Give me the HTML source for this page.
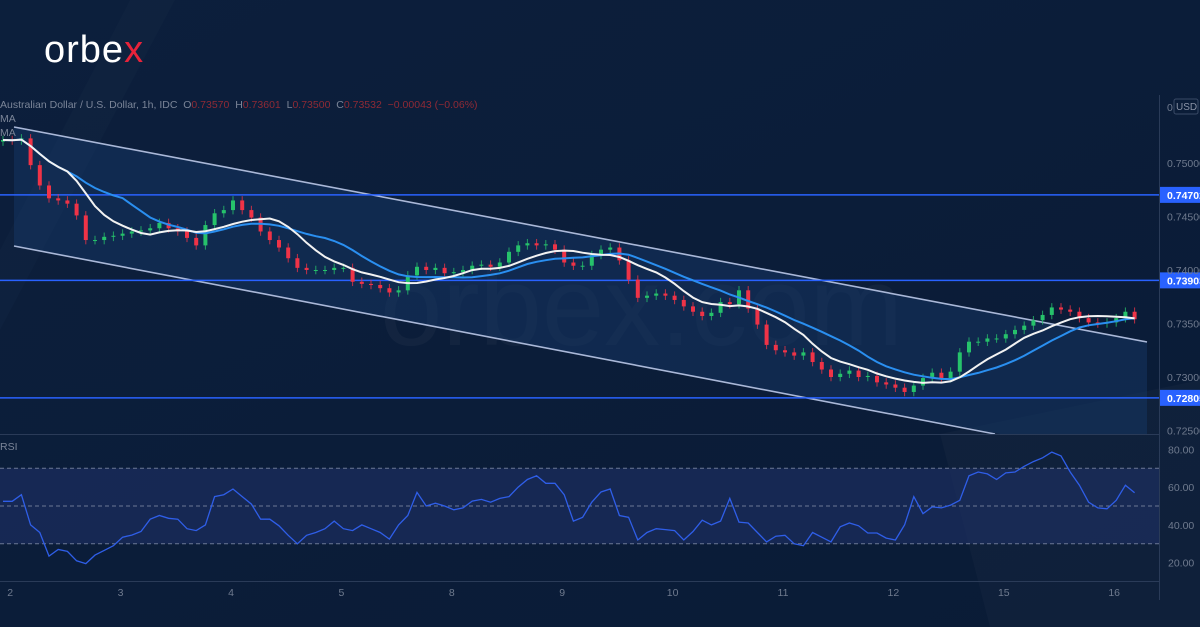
<!DOCTYPE html>
<html><head><meta charset="utf-8"><style>
html,body{margin:0;padding:0;background:#0b1d39;overflow:hidden}
svg{display:block}
text{font-family:"Liberation Sans",sans-serif}
</style></head><body>
<svg id="chart" width="1200" height="627" xmlns="http://www.w3.org/2000/svg">
<defs>
<linearGradient id="bg" x1="0" y1="0" x2="1" y2="1"><stop offset="0" stop-color="#0c1f3c"/><stop offset="1" stop-color="#0a1b36"/></linearGradient>
</defs>
<rect width="1200" height="627" fill="url(#bg)"/>
<polygon points="0,250 130,0 175,0 0,330" fill="#ffffff" opacity="0.015"/>
<polygon points="940,434 1200,380 1200,627 990,627" fill="#ffffff" opacity="0.025"/>
<g id="logo">
<text x="44" y="62" font-size="38" fill="#ffffff" letter-spacing="1">orbe<tspan fill="#e8233a">x</tspan></text>
</g>
<text x="380" y="345" font-size="112" fill="#ffffff" opacity="0.03">orbex.com</text>
<g id="channel"></g>
<g id="hlines"></g>
<g id="candles"></g>
<g id="mas"></g>
<g id="rsi"></g>
<g id="axes"></g>
<g id="header">
<text x="0" y="108" font-size="10.5" fill="#7b8598">Australian Dollar / U.S. Dollar, 1h, IDC&#160;&#160;O<tspan fill="#8f2a35">0.73570</tspan>&#160;&#160;H<tspan fill="#8f2a35">0.73601</tspan>&#160;&#160;L<tspan fill="#8f2a35">0.73500</tspan>&#160;&#160;C<tspan fill="#8f2a35">0.73532</tspan>&#160;&#160;<tspan fill="#8f2a35">−0.00043 (−0.06%)</tspan></text>
<text x="0" y="122" font-size="10.5" fill="#7b8598">MA</text>
<text x="0" y="136" font-size="10.5" fill="#7b8598">MA</text>
<text x="0" y="450" font-size="10.5" fill="#7b8598">RSI</text>
</g>
</svg>
<script>
const closes=[0.75215,0.7521,0.7523,0.7498,0.7479,0.7467,0.7465,0.7462,0.7451,0.7428,
0.7428,0.7431,0.7432,0.7434,0.7436,0.7437,0.7439,0.7444,0.7439,0.7436,
0.7430,0.7423,0.7442,0.7453,0.7456,0.7465,0.7456,0.7449,0.7436,0.7428,
0.7421,0.7411,0.7402,0.7400,0.7400,0.7400,0.7402,0.7402,0.7389,0.7387,
0.7386,0.7383,0.7379,0.7381,0.7395,0.7403,0.7400,0.7402,0.7397,0.7398,
0.7400,0.7404,0.7405,0.7403,0.7407,0.7417,0.7423,0.7425,0.7423,0.7424,
0.7419,0.7407,0.7404,0.7404,0.7414,0.7419,0.7421,0.7409,0.7391,0.7374,
0.7376,0.7378,0.7376,0.7372,0.7366,0.7361,0.7357,0.7360,0.7370,0.7368,
0.7381,0.7364,0.7349,0.7330,0.7325,0.7323,0.7320,0.7323,0.7314,0.7307,
0.7300,0.7303,0.7306,0.7300,0.7301,0.7295,0.7293,0.7290,0.7286,0.7292,
0.7299,0.7304,0.7299,0.7305,0.7323,0.7333,0.7333,0.7336,0.7336,0.7340,
0.7344,0.7348,0.7353,0.7358,0.7365,0.7363,0.7361,0.7355,0.7351,0.7350,
0.7351,0.7355,0.7361,0.7354];
const rsiValues=[52.5,52.5,56,40,36,23.5,27,26,21,19.5,
24,26.5,29,33.5,34.6,36.5,43,45,43.5,43,
38,37,40,55,56,59,55,51,43,43,
39.5,34.5,30,34.5,36,38,42,38,37,40,
38,36,32.5,40,45,57.2,50,51.5,50,48,
49,52.6,53.5,52,54,55,60,64,66,62,
62,56,42,44,52,57.4,59,45,44,32,
36,38,37.5,37,32,36.5,42.5,40,42,54,
41.5,41,36,31,34,34.5,30,29,36,33.5,
31,39,41,39.5,35.7,35.7,33,32,40,55,
46,49.5,49,50.5,53,66,68,67,64,67.5,
68,71,73.5,75.5,78.5,76.5,68,61,52,49,
48.5,53,61,57];
const priceTicks=[0.75,0.745,0.74,0.735,0.73,0.725];
const rsiTicks=[80,60,40,20];
const dayLabels=["2","3","4","5","8","9","10","11","12","15","16"];
const dayBarIndex=[1,13,25,37,49,61,73,85,97,109,121];
const levels=[0.74702,0.73903,0.72805];
const maFastPeriod=8, maSlowPeriod=14;

const NS="http://www.w3.org/2000/svg";
function el(tag,attrs,parent){const e=document.createElementNS(NS,tag);for(const k in attrs)e.setAttribute(k,attrs[k]);parent.appendChild(e);return e;}
const xOf=i=>3+i*9.2;
const yP=p=>163+(0.75-p)*10700;
const yR=v=>506-(v-50)*1.89;

const ch=document.getElementById('channel');
let f=el('polygon',{points:"14,127 1147,342 1147,434 1000,434 14,246",fill:"#17396a",opacity:"0.45"},ch);


let u=el('line',{x1:14,y1:127,x2:1147,y2:342,stroke:"#aab8d8","stroke-width":1.6},ch);


let lw=el('line',{x1:14,y1:246,x2:995,y2:434,stroke:"#aab8d8","stroke-width":1.6},ch);



const hl=document.getElementById('hlines');
levels.forEach(v=>{
 const y=yP(v);
 const l=el('line',{x1:0,y1:y,x2:1160,y2:y,stroke:"#2962ff","stroke-width":1.5},hl);
 
 
 const r=el('rect',{x:1160,y:y-8,width:40,height:16,fill:"#2962ff"},hl);
 
 
 const t=el('text',{x:1167,y:y+4,"font-size":"10.5","font-weight":"bold",fill:"#ffffff"},hl);
 t.textContent=v.toFixed(5);
 
 
});

const cg=document.getElementById('candles');
closes.forEach((c,i)=>{
 const o=i===0?0.7520:closes[i-1];
 const up=c>=o;
 const col=up?"#26c26b":"#ef3347";
 const x=xOf(i);
 const hi=Math.max(o,c)+0.0004, lo=Math.min(o,c)-0.0004;
 const w=el('line',{x1:x,y1:yP(hi),x2:x,y2:yP(lo),stroke:col,"stroke-width":1,opacity:"0.8"},cg);
 
 
 const top=yP(Math.max(o,c)), h=Math.max(1,Math.abs(yP(o)-yP(c)));
 const b=el('rect',{x:x-2,y:top,width:4,height:h,fill:col},cg);
 
 
});

function ma(n){return closes.map((_,i)=>{const s=Math.max(0,i-n+1);let t=0;for(let k=s;k<=i;k++)t+=closes[k];return t/(i-s+1);});}
const mg=document.getElementById('mas');
[[maSlowPeriod,"#2a8ff0","ma-slow-line"],[maFastPeriod,"#f2f2f2","ma-fast-line"]].forEach(([n,col,name])=>{
 const d=ma(n).map((v,i)=>(i?"L":"M")+xOf(i).toFixed(1)+","+yP(v).toFixed(1)).join("");
 const p=el('path',{d:d,fill:"none",stroke:col,"stroke-width":2},mg);
 
 
});

const rg=document.getElementById('rsi');
const sep=el('line',{x1:0,y1:434.5,x2:1160,y2:434.5,stroke:"#2a3b58","stroke-width":1},rg);


const band=el('rect',{x:0,y:yR(70),width:1159,height:yR(30)-yR(70),fill:"#1e3166",opacity:"0.6"},rg);


[70,50,30].forEach(v=>{
 const l=el('line',{x1:0,y1:yR(v),x2:1159,y2:yR(v),stroke:"#6c7894","stroke-width":1,"stroke-dasharray":"4,3"},rg);
 
 
});
const rd=rsiValues.map((v,i)=>(i?"L":"M")+xOf(i).toFixed(1)+","+yR(v).toFixed(1)).join("");
const rp=el('path',{d:rd,fill:"none",stroke:"#2f5ee8","stroke-width":1.3},rg);



const ag=document.getElementById('axes');
const va=el('line',{x1:1159.5,y1:95,x2:1159.5,y2:600,stroke:"#2a3b58","stroke-width":1},ag);


const ba=el('line',{x1:0,y1:581.5,x2:1159,y2:581.5,stroke:"#2a3b58","stroke-width":1},ag);


priceTicks.forEach(v=>{
 const t=el('text',{x:1167,y:yP(v)+4,"font-size":"10.5",fill:"#6f7a8e"},ag);
 t.textContent=v.toFixed(5);
 
 
});
const t0=el('text',{x:1167,y:111,"font-size":"10.5",fill:"#6f7a8e"},ag);
t0.textContent="0";


const ub=el('rect',{x:1174,y:99,width:24,height:15,rx:2,fill:"none",stroke:"#3a4a66"},ag);


const ut=el('text',{x:1176,y:110,"font-size":"10",fill:"#8a93a6"},ag);
ut.textContent="USD";


rsiTicks.forEach(v=>{
 const t=el('text',{x:1168,y:yR(v)+4,"font-size":"10.5",fill:"#6f7a8e"},ag);
 t.textContent=v.toFixed(2);
 
 
});
dayLabels.forEach((d,k)=>{
 const t=el('text',{x:xOf(dayBarIndex[k])-2,y:596,"font-size":"10.5",fill:"#6f7a8e","text-anchor":"middle"},ag);
 t.textContent=d;
 
 
});
</script>
</body></html>
